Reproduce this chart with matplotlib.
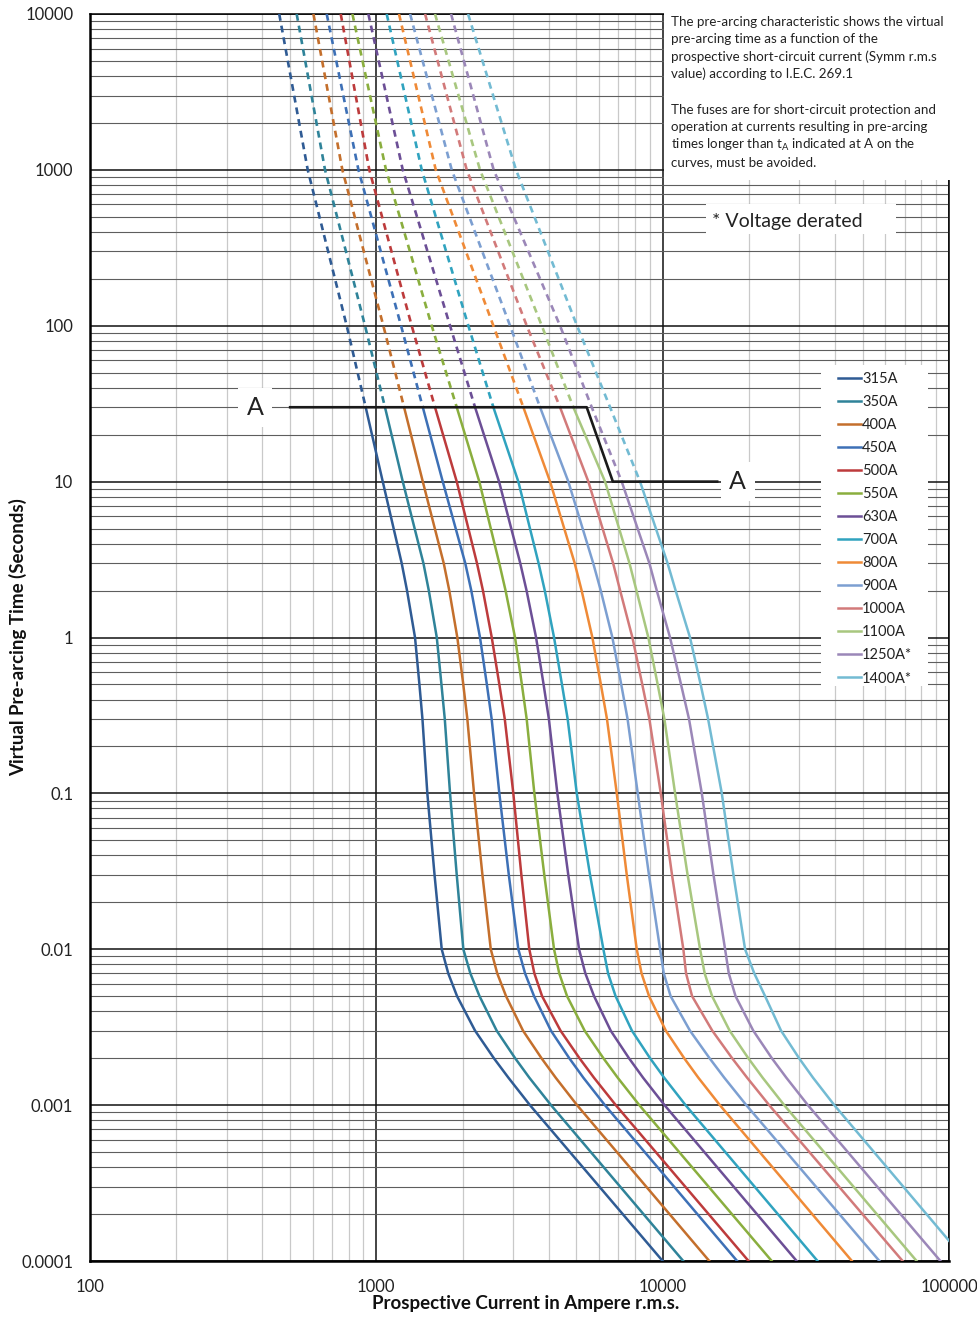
import numpy as np
import matplotlib.pyplot as plt
from matplotlib.patches import Rectangle
from matplotlib.ticker import LogLocator, FuncFormatter

plt.rcParams['font.family'] = ['Lato', 'DejaVu Sans']
plt.rcParams['mathtext.fontset'] = 'custom'
plt.rcParams['mathtext.rm'] = 'Lato'

times = [10000, 1000, 100, 30, 10, 3, 2, 1, 0.5, 0.3, 0.1, 0.03, 0.01, 0.007, 0.005,
         0.003, 0.002, 0.0015, 0.001, 0.0001]

# prospective current (A) for each fuse rating, one value per time row
i_315 = [458, 576, 788, 918, 1053, 1226, 1280, 1365, 1414, 1449, 1507, 1597, 1692, 1783, 1914, 2213, 2573, 2892, 3439, 10000]
i_350 = [527, 662, 913, 1072, 1237, 1460, 1525, 1626, 1688, 1734, 1809, 1909, 2013, 2130, 2293, 2633, 3053, 3422, 4074, 11800]
i_400 = [603, 761, 1058, 1250, 1453, 1719, 1798, 1918, 2012, 2079, 2194, 2347, 2510, 2644, 2838, 3254, 3774, 4230, 5023, 14550]
i_450 = [671, 866, 1220, 1453, 1706, 2044, 2146, 2302, 2432, 2528, 2689, 2902, 3133, 3307, 3555, 4074, 4719, 5284, 6283, 18200]
i_500 = [751, 945, 1329, 1603, 1909, 2246, 2357, 2530, 2689, 2809, 3009, 3210, 3422, 3564, 3792, 4400, 5122, 5754, 6859, 19950]
i_550 = [825, 1081, 1561, 1909, 2289, 2687, 2827, 3051, 3223, 3350, 3564, 3860, 4175, 4354, 4636, 5341, 6208, 6965, 8287, 24040]
i_630 = [938, 1237, 1809, 2212, 2683, 3181, 3347, 3613, 3838, 4005, 4288, 4681, 5105, 5370, 5760, 6587, 7627, 8541, 10150, 29380]
i_700 = [1087, 1441, 2096, 2563, 3133, 3686, 3875, 4175, 4449, 4658, 5012, 5577, 6208, 6447, 6848, 7812, 9036, 10120, 12020, 34750]
i_800 = [1200, 1613, 2563, 3262, 4044, 4928, 5212, 5682, 6084, 6390, 6914, 7492, 8119, 8439, 8964, 10260, 11890, 13320, 15840, 45810]
i_900 = [1312, 1834, 2931, 3731, 4684, 5719, 6079, 6674, 7166, 7541, 8185, 8956, 9793, 10090, 10660, 12460, 14580, 16410, 19590, 57150]
i_1000 = [1480, 2069, 3352, 4381, 5502, 6712, 7104, 7839, 8487, 8985, 9849, 10780, 11810, 12070, 12670, 14910, 17480, 19720, 23550, 68870]
i_1100 = [1603, 2302, 3783, 4876, 6293, 7656, 8101, 8913, 9606, 10140, 11050, 12220, 13510, 14020, 14880, 17140, 19910, 22340, 26570, 77090]
i_1250 = [1824, 2569, 4381, 5653, 7195, 8984, 9537, 10610, 11590, 12360, 13700, 15050, 16520, 17020, 17970, 20730, 24060, 27030, 32150, 93330]
i_1400 = [2091, 3075, 5023, 6552, 8337, 10400, 11100, 12460, 13570, 14410, 16090, 17670, 19400, 20890, 22790, 25920, 29950, 33500, 39760, 114800]

ratings = ['315A', '350A', '400A', '450A', '500A', '550A', '630A', '700A',
           '800A', '900A', '1000A', '1100A', '1250A*', '1400A*']
currents = [i_315, i_350, i_400, i_450, i_500, i_550, i_630, i_700,
            i_800, i_900, i_1000, i_1100, i_1250, i_1400]
colors = ['#2f5b94', '#2f8399', '#c46f2c', '#3d70b6', '#bd3b3c', '#8aae3e', '#6c4f96',
          '#30a3bf', '#ef8a37', '#7c9fd1', '#d27a7a', '#a8c77f', '#9b87b8', '#73bbd3']
# time below which the curve is drawn solid
solid_from = [30] * 12 + [10] * 2

# the "A" limit line
a_current = [500, 5430, 6700, 15500]
a_time = [30, 30, 10, 10]

note_lines = ['The pre-arcing characteristic shows the virtual',
              'pre-arcing time as a function of the',
              'prospective short-circuit current (Symm r.m.s',
              'value) according to I.E.C. 269.1',
              'The fuses are for short-circuit protection and',
              'operation at currents resulting in pre-arcing',
              'times longer than t$_\\mathregular{A}$ indicated at A on the',
              'curves, must be avoided.']
note_base = [26, 43, 61, 78, 114, 131, 149, 166]

W, H = 978, 1320
fig = plt.figure(figsize=(W / 100, H / 100), dpi=100)
ax = fig.add_axes([90 / W, 1 - 1261 / H, (949 - 90) / W, (1261 - 14) / H])
ax.set_xscale('log')
ax.set_yscale('log')
ax.set_xlim(100, 100000)
ax.set_ylim(0.0001, 10000)

ax.xaxis.set_major_locator(LogLocator(base=10, numticks=20))
ax.yaxis.set_major_locator(LogLocator(base=10, numticks=20))
ax.xaxis.set_minor_locator(LogLocator(base=10, subs=np.arange(2, 10), numticks=100))
ax.yaxis.set_minor_locator(LogLocator(base=10, subs=np.arange(2, 10), numticks=100))
fmt = FuncFormatter(lambda v, p: '{:g}'.format(v))
ax.xaxis.set_major_formatter(fmt)
ax.yaxis.set_major_formatter(fmt)
ax.tick_params(which='both', length=0)
ax.tick_params(axis='y', pad=12, labelsize=12, labelcolor='#222222')
ax.tick_params(axis='x', pad=13, labelsize=12, labelcolor='#222222')

ax.set_axisbelow(True)
ax.grid(which='minor', axis='x', color='#c9c9c9', lw=0.9)
ax.grid(which='minor', axis='y', color='#5e5e5e', lw=0.8)
ax.grid(which='major', axis='both', color='#111111', lw=1.1)
for s in ['left', 'bottom']:
    ax.spines[s].set_linewidth(1.8)
for s in ['top', 'right']:
    ax.spines[s].set_linewidth(1.1)

for cur, col, lab, sf in zip(currents, colors, ratings, solid_from):
    k = times.index(sf)
    ax.plot(cur[:k + 1], times[:k + 1], color=col, lw=1.9, ls=(0, (2.6, 1.9)), zorder=3)
    ax.plot(cur[k:], times[k:], color=col, lw=1.8, zorder=3, label=lab,
            solid_joinstyle='round')

ax.plot(a_current, a_time, color='#1a1a1a', lw=1.9, zorder=4)
ax.text(377, 30, 'A', fontsize=18, color='#222222', ha='center', va='center', zorder=5,
        bbox=dict(fc='white', ec='none', pad=6))
ax.text(18300, 10, 'A', fontsize=18, color='#222222', ha='center', va='center', zorder=5,
        bbox=dict(fc='white', ec='none', pad=6))

fig.text(18 / W, 1 - 637.5 / H, 'Virtual Pre-arcing Time (Seconds)', rotation=90,
         fontsize=13.5, fontweight='bold', color='#111111', ha='center', va='center')
fig.text(526 / W, 1 - 1304 / H, 'Prospective Current in Ampere r.m.s.',
         fontsize=13.5, fontweight='bold', color='#111111', ha='center', va='center')

# white panel with the note, top right
fig.patches.append(Rectangle((664 / W, 1 - 180 / H), (W - 664) / W, 180 / H,
                             transform=fig.transFigure, fc='white', ec='none', zorder=5))
for line, yb in zip(note_lines, note_base):
    fig.text(671 / W, 1 - yb / H, line, fontsize=9.6, color='#222222',
             ha='left', va='baseline', zorder=6)

fig.patches.append(Rectangle((706 / W, 1 - 234 / H), 190 / W, 30 / H,
                             transform=fig.transFigure, fc='white', ec='none', zorder=5))
fig.text(712 / W, 1 - 221 / H, '* Voltage derated', fontsize=14, color='#222222',
         ha='left', va='center', zorder=6)

# legend on white panel
fig.patches.append(Rectangle((821 / W, 1 - 686 / H), 107 / W, 321 / H,
                             transform=fig.transFigure, fc='white', ec='none', zorder=5))
handles, labels = ax.get_legend_handles_labels()
leg = fig.legend(handles, labels, loc='upper left', bbox_to_anchor=(838 / W, 1 - 372 / H),
                 frameon=False, fontsize=10.5, handlelength=1.55, handletextpad=0.1,
                 labelspacing=0.62, borderpad=0, borderaxespad=0)
leg.set_zorder(7)
for t in leg.get_texts():
    t.set_color('#222222')

fig.savefig('out.png', dpi=100)
